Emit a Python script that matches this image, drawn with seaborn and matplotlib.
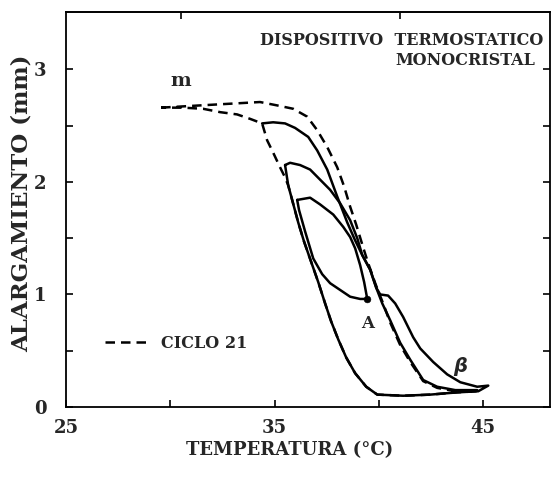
"""
Alargamiento vs temperatura - dispositivo termostatico monocristal
"""
import numpy as np
import pandas as pd
import matplotlib
matplotlib.use('Agg')
import matplotlib.pyplot as plt
import seaborn as sns

# ciclo 21 (dashed): upper branch, bottom, left branch and back to start
ciclo_T = [29.56, 31.43, 33.35, 34.30, 35.12, 35.89, 36.56, 37.04, 37.52, 38.00,
           38.33, 38.62, 38.91, 39.24, 39.48, 39.82, 40.20, 40.54, 41.02, 41.50,
           42.12, 42.79, 43.66, 44.71,
           43.75, 42.46, 41.16, 39.92,
           39.39, 38.86, 38.43, 38.05, 37.71, 37.42, 37.09, 36.75, 36.41, 36.13,
           35.84, 35.65, 35.50, 35.26, 34.93, 34.64, 34.40, 33.83, 33.20, 32.39,
           31.57, 30.61, 29.56]
ciclo_E = [2.66, 2.68, 2.70, 2.71, 2.68, 2.65, 2.58, 2.46, 2.31, 2.13,
           1.96, 1.78, 1.62, 1.42, 1.28, 1.10, 0.92, 0.75, 0.55, 0.40,
           0.23, 0.17, 0.14, 0.14,
           0.13, 0.11, 0.10, 0.11,
           0.18, 0.30, 0.44, 0.60, 0.76, 0.92, 1.11, 1.29, 1.47, 1.64,
           1.84, 1.97, 2.04, 2.13, 2.26, 2.37, 2.52, 2.56, 2.60, 2.62,
           2.65, 2.66, 2.66]

# outer partial cycle, heating branch
ext_T = [34.40, 34.93, 35.50, 35.98, 36.61, 37.04, 37.52, 38.00, 38.48, 38.86,
         39.20, 39.58, 39.87, 40.16, 40.54, 41.02, 41.50, 42.12, 42.79, 43.66, 44.71]
ext_E = [2.52, 2.53, 2.52, 2.48, 2.40, 2.28, 2.11, 1.87, 1.64, 1.48,
         1.35, 1.22, 1.06, 0.92, 0.77, 0.57, 0.42, 0.24, 0.18, 0.15, 0.15]

# middle cycle: heating to beta, bottom back, cooling up to the corner
mid_T = [35.50, 35.74, 36.22, 36.70, 37.18, 37.66, 38.14, 38.62, 38.96, 39.20,
         39.58, 39.87, 40.06, 40.44, 40.78, 41.16, 41.64, 41.98, 42.60, 43.27,
         43.90, 44.71, 45.24,
         44.76, 43.75, 42.46, 41.16, 39.92,
         39.39, 38.86, 38.43, 38.05, 37.71, 37.42, 37.09, 36.75, 36.41, 36.13,
         35.84, 35.65, 35.50]
mid_E = [2.15, 2.17, 2.15, 2.11, 2.02, 1.93, 1.81, 1.66, 1.50, 1.35,
         1.22, 1.06, 1.00, 0.99, 0.92, 0.80, 0.62, 0.52, 0.40, 0.29,
         0.22, 0.18, 0.19,
         0.14, 0.13, 0.11, 0.10, 0.11,
         0.18, 0.30, 0.44, 0.60, 0.76, 0.92, 1.11, 1.29, 1.47, 1.64,
         1.84, 1.97, 2.15]

# inner cycle, stopped at point A
int_T = [36.08, 36.70, 37.18, 37.81, 38.29, 38.62, 38.86, 39.10, 39.29, 39.44,
         39.10, 38.62, 38.14, 37.66, 37.28, 36.85, 36.46, 36.17, 36.08]
int_E = [1.84, 1.86, 1.80, 1.71, 1.60, 1.51, 1.41, 1.26, 1.11, 0.96,
         0.96, 0.98, 1.04, 1.10, 1.18, 1.32, 1.56, 1.75, 1.84]

punto_A = (39.44, 0.96)

x_ticks = [25, 30, 35, 40, 45]
x_labels = ['25', '', '35', '', '45']
top_ticks = [30.5, 41]
y_ticks = [0, 0.5, 1, 1.5, 2, 2.5, 3]
y_labels = ['0', '', '1', '', '2', '', '3']

sns.set_style('ticks')
plt.rcParams['font.family'] = ['DejaVu Serif']
plt.rcParams['font.weight'] = 'bold'

fig = plt.figure(figsize=(5.52, 4.9), dpi=100)
ax = fig.add_axes([0.1196, 0.1694, 0.8768, 0.8061])

lw = 1.8
for T, E in [(ext_T, ext_E), (mid_T, mid_E), (int_T, int_E)]:
    sns.lineplot(x=T, y=E, sort=False, estimator=None, ax=ax,
                 color='black', linewidth=lw)

sns.lineplot(x=ciclo_T, y=ciclo_E, sort=False, estimator=None, ax=ax,
             color='black', linewidth=lw, linestyle=(0, (3.8, 2.4)),
             label='CICLO 21')

sns.scatterplot(x=[punto_A[0]], y=[punto_A[1]], ax=ax, color='black',
                s=24, edgecolor='black', zorder=5)

ax.set_xlim(25, 48.2)
ax.set_ylim(0, 3.51)
ax.set_xticks(x_ticks)
ax.set_xticklabels(x_labels)
ax.set_yticks(y_ticks)
ax.set_yticklabels(y_labels)

sec = ax.secondary_xaxis('top')
sec.set_xticks(top_ticks)
sec.set_xticklabels([])
sec.tick_params(direction='in', length=5, width=1.4)
sec.spines['top'].set_linewidth(1.3)

ax.tick_params(axis='x', direction='in', length=5, width=1.4, pad=9,
               labelsize=13)
ax.tick_params(axis='y', direction='in', length=5, width=1.4, pad=14,
               labelsize=13, right=True)
for sp in ax.spines.values():
    sp.set_visible(True)
    sp.set_linewidth(1.3)
    sp.set_color('black')
ax.set_xlabel('')
ax.set_ylabel('')

ax.legend(loc='center left', bbox_to_anchor=(0.0806, 0.162), frameon=False,
          fontsize=11.5, handlelength=2.8, handletextpad=0.7,
          borderpad=0, borderaxespad=0)

ax.text(0.9855, 0.929, 'DISPOSITIVO  TERMOSTATICO', transform=ax.transAxes,
        ha='right', va='center', fontsize=11.5, weight='bold')
ax.text(0.969, 0.876, 'MONOCRISTAL', transform=ax.transAxes,
        ha='right', va='center', fontsize=11.5, weight='bold')
ax.text(30.5, 2.9, 'm', ha='center', va='center', fontsize=14, weight='bold')
ax.text(39.44, 0.74, 'A', ha='center', va='center', fontsize=12, weight='bold')
ax.text(43.9, 0.36, r'$\beta$', ha='center', va='center', fontsize=14)

fig.text(290 / 552, 1 - 450 / 490, 'TEMPERATURA (°C)', ha='center',
         va='center', fontsize=13, weight='bold')
fig.text(22 / 552, 1 - 203 / 490, 'ALARGAMIENTO (mm)', ha='center',
         va='center', rotation=90, fontsize=16.5, weight='bold')

plt.savefig('out.png', dpi=100, facecolor='white')
plt.close(fig)
